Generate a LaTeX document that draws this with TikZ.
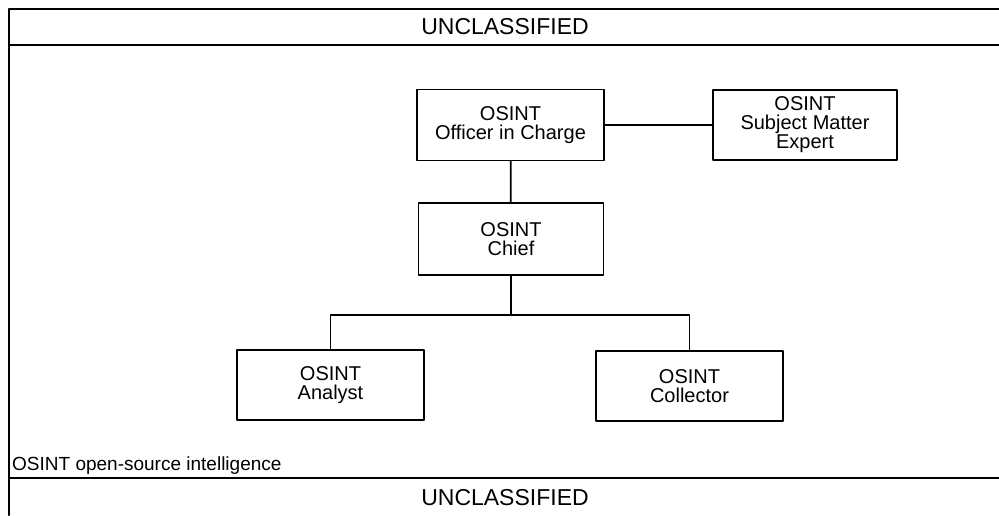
\documentclass[tikz,border=0pt]{standalone}
\usepackage{fontspec}
\setmainfont{Liberation Sans}
\usetikzlibrary{positioning}

\tikzset{
  unitbox/.style={draw=black, line width=1.8pt, minimum width=187pt, minimum height=71pt,
    align=center, inner sep=0pt, font=\fontsize{20}{19}\selectfont},
  bandtext/.style={font=\fontsize{23}{23}\selectfont, inner sep=0pt},
  link/.style={line width=1.8pt}
}

\begin{document}
\begin{tikzpicture}[line cap=round,line join=round,x=1pt,y=-1pt]
\useasboundingbox (0,0) rectangle (999,515);
% frame and classification bands
\draw[line width=2pt] (9,515) -- (9,9) -- (999,9);
\foreach \y in {45,478}
\draw[line width=2pt] (9,\y) -- (999,\y);
\node[bandtext] (classtop) at (505,27) {UNCLASSIFIED};
\node[bandtext] (classbot) at (505,498) {UNCLASSIFIED};
% organisation boxes
\node[unitbox] (oic) at (510.5,125) {OSINT\\Officer in Charge};
\node[unitbox, minimum width=184pt, minimum height=70pt] (sme) at (805,125) {OSINT\\Subject Matter\\Expert};
\node[unitbox, minimum width=185pt, minimum height=72pt] (chief) at (511,239) {OSINT\\Chief};
\node[unitbox, minimum height=70pt] (analyst) at (330.5,385) {OSINT\\Analyst};
\node[unitbox, minimum height=70pt] (collector) at (689.5,386) {OSINT\\Collector};
\coordinate (branch) at (511,315);
% connectors
\draw[link] (oic) -- (sme);
\draw[link] (oic) -- (chief);
\draw[link] (chief) -- (branch);
\draw[link] (analyst) |- (branch) -| (collector);
\node[anchor=west, inner sep=0pt, font=\fontsize{19}{19}\selectfont] (legend) at (12,466) {OSINT open-source intelligence};
\end{tikzpicture}
\end{document}
